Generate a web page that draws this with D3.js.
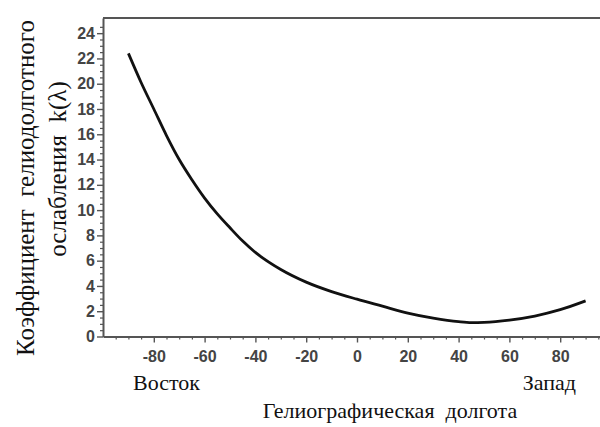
<!DOCTYPE html>
<html>
<head>
<meta charset="utf-8">
<script src="https://cdn.jsdelivr.net/npm/d3@7"></script>
<style>
  body { margin: 0; background: #fff; }
  svg { display: block; }
</style>
</head>
<body>
<svg id="chart" width="600" height="427"></svg>
<script>
// Heliographic longitude (deg) and attenuation coefficient k(lambda)
const longitude = [-90, -85, -80, -75, -70, -65, -60, -55, -50, -45, -40, -30, -20, -10, 0, 10, 20, 30, 40, 45, 50, 60, 70, 80, 90];
const kValues   = [22.4, 20.1, 18.0, 15.9, 14.0, 12.4, 10.95, 9.7, 8.6, 7.55, 6.65, 5.3, 4.3, 3.55, 2.95, 2.4, 1.85, 1.45, 1.17, 1.1, 1.12, 1.3, 1.62, 2.12, 2.82];

const xMajorTicks = [-80, -60, -40, -20, 0, 20, 40, 60, 80];
const yMajorTicks = [0, 2, 4, 6, 8, 10, 12, 14, 16, 18, 20, 22, 24];

const xTitle = "Гелиографическая  долгота";
const yTitle = ["Коэффициент  гелиодолготного", "ослабления  k(λ)"];
const sideLabels = ["Восток", "Запад"];

const svg = d3.select('#chart');

// Plot box (the picture is cropped on the right)
const plotLeft = 103, plotBottom = 336.5, plotTop = 18;

const x = d3.scaleLinear().domain([-100, 100]).range([plotLeft, 611]);
const y = d3.scaleLinear().domain([0, 25.2]).range([plotBottom, plotTop]);

const axisColor = '#555';
const tickFont = 'Liberation Sans, Arial, sans-serif';
// plain hyphen for negatives, as in the original
const fmt = d => String(d);

// minor ticks
const xMinor = d3.range(-95, 100, 5).filter(v => xMajorTicks.indexOf(v) < 0);
const yMinor = d3.range(0.5, 25, 0.5).filter(v => yMajorTicks.indexOf(v) < 0);

svg.append('g')
  .attr('transform', `translate(0,${plotBottom})`)
  .call(d3.axisBottom(x).tickValues(xMinor).tickSize(3).tickFormat('').tickSizeOuter(0))
  .call(g => g.select('.domain').remove())
  .selectAll('line').attr('stroke', axisColor).attr('stroke-width', 1.2);

svg.append('g')
  .attr('transform', `translate(${plotLeft},0)`)
  .call(d3.axisLeft(y).tickValues(yMinor).tickSize(3).tickFormat('').tickSizeOuter(0))
  .call(g => g.select('.domain').remove())
  .selectAll('line').attr('stroke', axisColor).attr('stroke-width', 1.2);

// major ticks + labels
const xAxis = svg.append('g')
  .attr('transform', `translate(0,${plotBottom})`)
  .call(d3.axisBottom(x).tickValues(xMajorTicks).tickFormat(fmt).tickSize(6).tickPadding(8).tickSizeOuter(0));
xAxis.select('.domain').attr('stroke', axisColor).attr('stroke-width', 2);
xAxis.selectAll('line').attr('stroke', axisColor).attr('stroke-width', 1.4);
xAxis.selectAll('text')
  .attr('font-family', tickFont)
  .attr('font-size', 16)
  .attr('font-weight', 'bold')
  .attr('fill', '#444');

const yAxis = svg.append('g')
  .attr('transform', `translate(${plotLeft},0)`)
  .call(d3.axisLeft(y).tickValues(yMajorTicks).tickFormat(fmt).tickSize(6).tickPadding(2).tickSizeOuter(0));
yAxis.select('.domain').attr('stroke', axisColor).attr('stroke-width', 2);
yAxis.selectAll('line').attr('stroke', axisColor).attr('stroke-width', 1.4);
yAxis.selectAll('text')
  .attr('font-family', tickFont)
  .attr('font-size', 16)
  .attr('font-weight', 'bold')
  .attr('fill', '#444');

// top border of the frame
svg.append('line')
  .attr('x1', plotLeft).attr('x2', 600)
  .attr('y1', plotTop).attr('y2', plotTop)
  .attr('stroke', axisColor).attr('stroke-width', 2);

// curve
const line = d3.line()
  .x((d, i) => x(longitude[i]))
  .y(d => y(d))
  .curve(d3.curveMonotoneX);

svg.append('path')
  .datum(kValues)
  .attr('d', line)
  .attr('fill', 'none')
  .attr('stroke', '#111')
  .attr('stroke-width', 2.8);

// texts
const serif = 'Liberation Serif, Times New Roman, serif';

svg.append('text')
  .attr('x', 133).attr('y', 390)
  .attr('font-family', serif).attr('font-size', 22).attr('fill', '#111')
  .text(sideLabels[0]);

svg.append('text')
  .attr('x', 576).attr('y', 390)
  .attr('text-anchor', 'end')
  .attr('font-family', serif).attr('font-size', 22).attr('fill', '#111')
  .text(sideLabels[1]);

svg.append('text')
  .attr('x', 390).attr('y', 418)
  .attr('text-anchor', 'middle')
  .attr('font-family', serif).attr('font-size', 22).attr('fill', '#111')
  .style('white-space', 'pre')
  .text(xTitle);

svg.append('text')
  .attr('transform', 'translate(34,188) rotate(-90)')
  .attr('text-anchor', 'middle')
  .attr('font-family', serif).attr('font-size', 25).attr('fill', '#111')
  .style('white-space', 'pre')
  .text(yTitle[0]);

svg.append('text')
  .attr('transform', 'translate(66,169) rotate(-90)')
  .attr('text-anchor', 'middle')
  .attr('font-family', serif).attr('font-size', 25).attr('fill', '#111')
  .style('white-space', 'pre')
  .text(yTitle[1]);
</script>
</body>
</html>
